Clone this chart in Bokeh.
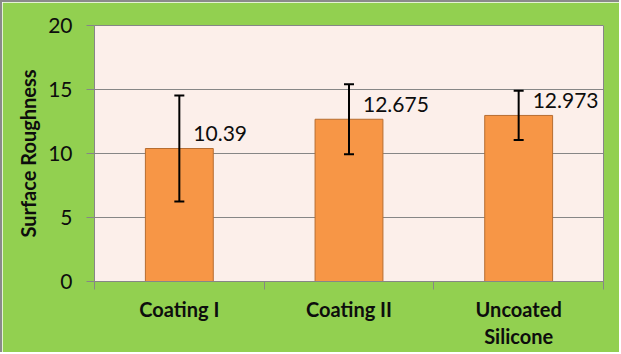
import numpy as np
from bokeh.plotting import figure
from bokeh.models import ColumnDataSource, Whisker, TeeHead, FixedTicker, Range1d, LabelSet
from bokeh.core.properties import value
from bokeh.embed import file_html
from bokeh.resources import INLINE

categories = ["Coating I", "Coating II", "Uncoated\nSilicone"]
values = [10.39, 12.675, 12.973]
errors = [4.14, 2.74, 1.92]
value_labels = ["10.39", "12.675", "12.973"]
y_ticks = [0, 5, 10, 15, 20]

FONT = "Lato"
GREEN = "#92D050"
TXT = "#0d0d0d"

xs = np.arange(len(categories)) + 0.5
src = ColumnDataSource(dict(
    x=xs, top=values,
    upper=[v + e for v, e in zip(values, errors)],
    lower=[v - e for v, e in zip(values, errors)],
    lab=value_labels,
))

p = figure(width=619, height=352, output_backend="svg", toolbar_location=None,
           x_range=Range1d(0, len(categories)), y_range=Range1d(0, 20),
           min_border_left=92, min_border_right=18, min_border_top=23, min_border_bottom=73)
p.styles = {"border-top": "2px solid #8a8a8a", "border-left": "2px solid #8a8a8a"}

p.background_fill_color = "#FCEFEA"
p.border_fill_color = GREEN
p.outline_line_color = "#868686"
p.outline_line_width = 1

p.vbar(x="x", top="top", width=0.4, bottom=0, source=src,
       fill_color="#F79646", line_color="#B66D31", line_width=1)

w = Whisker(base="x", upper="upper", lower="lower", source=src,
            line_color="black", line_width=2, level="overlay",
            upper_head=TeeHead(size=10, line_color="black", line_width=2),
            lower_head=TeeHead(size=10, line_color="black", line_width=2))
p.add_layout(w)

labels = LabelSet(x="x", y="top", text="lab", source=src, x_offset=14, y_offset=15,
                  text_baseline="middle", text_align="left",
                  text_font=value(FONT), text_font_size="21px", text_color=TXT)
p.add_layout(labels)

# y axis
p.yaxis.ticker = FixedTicker(ticks=y_ticks)
p.yaxis.axis_line_color = "#868686"
p.yaxis.major_tick_line_color = "#868686"
p.yaxis.major_tick_out = 8
p.yaxis.major_tick_in = 0
p.yaxis.minor_tick_line_color = None
p.yaxis.major_label_text_font = FONT
p.yaxis.major_label_text_font_size = "21px"
p.yaxis.major_label_text_color = TXT
p.yaxis.major_label_standoff = 14
p.yaxis.axis_label = "Surface Roughness"
p.yaxis.axis_label_text_font = FONT
p.yaxis.axis_label_text_font_style = "bold"
p.yaxis.axis_label_text_font_size = "20px"
p.yaxis.axis_label_text_color = TXT
p.yaxis.axis_label_standoff = 5

# x axis
p.xaxis.ticker = FixedTicker(ticks=list(xs), minor_ticks=list(range(len(categories) + 1)))
p.xaxis.major_label_overrides = {float(x): c for x, c in zip(xs, categories)}
p.xaxis.axis_line_color = "#868686"
p.xaxis.major_tick_line_color = None
p.xaxis.major_tick_out = 0
p.xaxis.major_tick_in = 0
p.xaxis.minor_tick_line_color = "#868686"
p.xaxis.minor_tick_out = 8
p.xaxis.minor_tick_in = 0
p.xaxis.major_label_text_font = FONT
p.xaxis.major_label_text_font_style = "bold"
p.xaxis.major_label_text_font_size = "20px"
p.xaxis.major_label_text_line_height = 1.15
p.xaxis.major_label_text_color = TXT
p.xaxis.major_label_standoff = 7

p.xgrid.grid_line_color = None
p.ygrid.grid_line_color = "#868686"
p.ygrid.ticker = FixedTicker(ticks=y_ticks)

open("out.html", "w").write(file_html(p, INLINE))
